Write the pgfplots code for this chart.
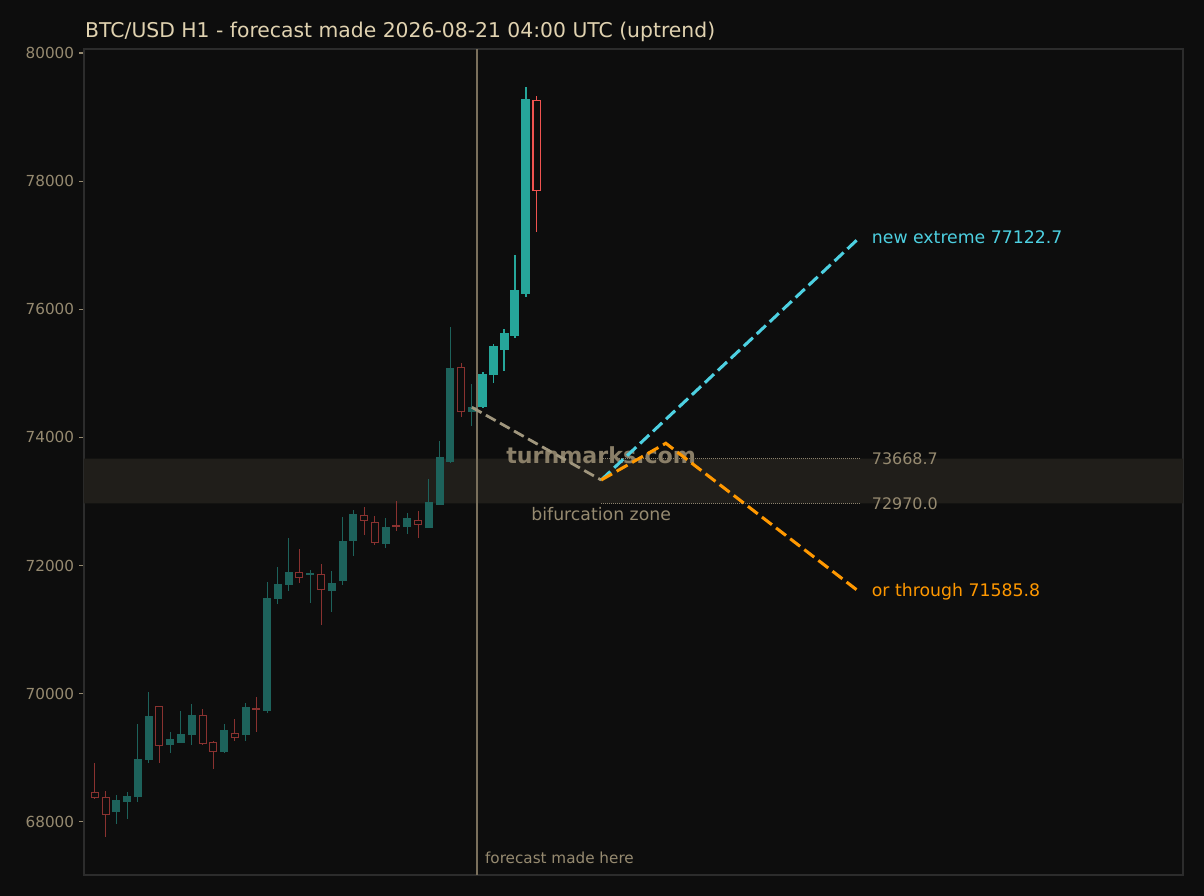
\documentclass[border=0pt]{standalone}
\usepackage{fontspec}
\setmainfont{DejaVu Sans}
\usepackage{pgfplots}
\pgfplotsset{compat=1.18}
\usepackage{pgfplotstable}

\definecolor{bg}{RGB}{13,13,13}
\definecolor{frame}{RGB}{44,44,44}
\definecolor{band}{RGB}{32,30,26}
\definecolor{titlec}{RGB}{224,210,176}
\definecolor{tickc}{RGB}{150,138,112}
\definecolor{vline}{RGB}{122,112,92}
\definecolor{tanc}{RGB}{160,150,125}
\definecolor{dotc}{RGB}{140,130,110}
\definecolor{wmark}{RGB}{138,127,104}
\definecolor{upc}{RGB}{38,166,154}
\definecolor{dnc}{RGB}{239,83,80}
\definecolor{uppast}{RGB}{29,98,91}
\definecolor{dnpast}{RGB}{138,50,48}
\definecolor{cyanc}{RGB}{77,208,225}
\definecolor{orangec}{RGB}{255,152,0}

% hourly candles, x = candle index
\pgfplotstableread{
i  o      h      l      c
0  68463  68924  68363  68385
1  68385  68488  67760  68113
2  68160  68425  67968  68338
3  68316  68463  68041  68400
4  68394  69524  68316  68978
5  68971  70023  68915  69653
6  69805  69810  68915  69190
7  69205  69399  69071  69290
8  69237  69736  69230  69372
9  69362  69836  69196  69669
10 69664  69767  69196  69227
11 69243  69268  68822  69102
12 69107  69524  69080  69435
13 69383  69611  69258  69315
14 69362  69861  69258  69778
15 69765  69955  69403  69752
16 69747  71749  69695  71495
17 71495  71983  71401  71698
18 71713  72426  71599  71900
19 71896  72264  71724  71812
20 71858  71932  71412  71880
21 71865  72030  71073  71630
22 71609  71921  71281  71724
23 71765  72763  71698  72384
24 72389  72868  72150  72801
25 72785  72920  72478  72701
26 72676  72779  72322  72358
27 72342  72748  72270  72598
28 72620  73004  72536  72610
29 72607  72817  72489  72728
30 72712  72848  72431  72645
31 72603  73357  72590  72993
32 72951  73950  72945  73680
33 73622  75729  73597  75069
34 75095  75157  74315  74402
35 74402  74830  74179  74471
}\past

\pgfplotstableread{
i  o      h      l      c
36 74480  75017  74465  74975
37 74980  75459  74855  75412
38 75385  75693  75042  75615
39 75588  76848  75557  76286
40 76259  79469  76197  79267
41 79262  79329  77211  77857
}\future

\pgfplotsset{
  candle/.style 2 args={draw=none, mark=none, forget plot,
    error bars/.cd, y dir=both, y explicit, error mark=none,
    error bar style={draw=#1, line width=#2}},
  rise/.style={restrict expr to domain={\thisrow{c}-\thisrow{o}}{0:100000}},
  fall/.style={restrict expr to domain={\thisrow{c}-\thisrow{o}}{-100000:0}},
}

\begin{document}
\begin{tikzpicture}
\fill[bg] (-60.48bp,-15.12bp) rectangle (806.4bp,630bp);
\begin{axis}[
  at={(0,0)}, anchor=south west,
  scale only axis,
  width=791.28bp, height=594.72bp,
  xmin=-1, xmax=101,
  ymin=67172, ymax=80062,
  clip=false,
  axis line style={draw=frame, line width=0.9bp},
  xtick=\empty,
  ytick={68000,70000,...,80000},
  ytick pos=left,
  tick align=outside,
  major tick length=3.6bp,
  tick style={draw=tickc, line width=0.8bp},
  scaled y ticks=false,
  yticklabel style={font=\fontsize{11}{13}\selectfont, text=tickc},
  /pgf/number format/.cd, fixed, 1000 sep={}, assume math mode=true,
]

% bifurcation zone
\addplot[fill=band, draw=none, forget plot] coordinates {
  (-1,72970) (101,72970) (101,73668.7) (-1,73668.7) (-1,72970)};

% forecast made here
\addplot[vline, line width=1.4bp, forget plot] coordinates {(35.45,67172) (35.45,80062)};

% past candles (dimmed)
\addplot[rise, candle={uppast}{0.72bp}] table[x=i,
  y expr={(\thisrow{h}+\thisrow{l})/2}, y error expr={(\thisrow{h}-\thisrow{l})/2}] {\past};
\addplot[fall, candle={dnpast}{0.72bp}] table[x=i,
  y expr={(\thisrow{h}+\thisrow{l})/2}, y error expr={(\thisrow{h}-\thisrow{l})/2}] {\past};
\addplot[rise, candle={uppast}{5.76bp}] table[x=i,
  y expr={(\thisrow{o}+\thisrow{c})/2}, y error expr={(\thisrow{c}-\thisrow{o})/2+8}] {\past};
\addplot[fall, candle={dnpast}{5.76bp}] table[x=i,
  y expr={(\thisrow{o}+\thisrow{c})/2}, y error expr={(\thisrow{o}-\thisrow{c})/2+8}] {\past};
\addplot[fall, candle={bg}{4.32bp}] table[x=i,
  y expr={(\thisrow{o}+\thisrow{c})/2}, y error expr={max((\thisrow{o}-\thisrow{c})/2-8,0)}] {\past};

% candles after the forecast
\addplot[rise, candle={upc}{1.3bp}] table[x=i,
  y expr={(\thisrow{h}+\thisrow{l})/2}, y error expr={(\thisrow{h}-\thisrow{l})/2}] {\future};
\addplot[fall, candle={dnc}{1.3bp}] table[x=i,
  y expr={(\thisrow{h}+\thisrow{l})/2}, y error expr={(\thisrow{h}-\thisrow{l})/2}] {\future};
\addplot[rise, candle={upc}{6.48bp}] table[x=i,
  y expr={(\thisrow{o}+\thisrow{c})/2}, y error expr={(\thisrow{c}-\thisrow{o})/2+12}] {\future};
\addplot[fall, candle={dnc}{6.48bp}] table[x=i,
  y expr={(\thisrow{o}+\thisrow{c})/2}, y error expr={(\thisrow{o}-\thisrow{c})/2+12}] {\future};
\addplot[fall, candle={bg}{4.32bp}] table[x=i,
  y expr={(\thisrow{o}+\thisrow{c})/2}, y error expr={max((\thisrow{o}-\thisrow{c})/2-12,0)}] {\future};

% zone levels
\addplot[dotc, line width=0.8bp, dash pattern=on 0.72bp off 0.72bp, forget plot]
  coordinates {(47,73668.7) (71,73668.7)};
\addplot[dotc, line width=0.8bp, dash pattern=on 0.72bp off 0.72bp, forget plot]
  coordinates {(47,72970) (71,72970)};

\node[font=\bfseries\fontsize{16}{18}\selectfont, text=wmark, inner sep=0] at (axis cs:47,73720) {turnmarks.com};

% forecast paths
\addplot[tanc, line width=2bp, dash pattern=on 8bp off 3.6bp, forget plot]
  coordinates {(35,74471) (47,73336)};
\addplot[cyanc, line width=2.2bp, dash pattern=on 9bp off 3.8bp, forget plot]
  coordinates {(47,73336) (71,77122.7)};
\addplot[orangec, line width=2.2bp, dash pattern=on 9bp off 3.8bp, forget plot]
  coordinates {(47,73336) (53,73909) (71,71585.8)};

\node[anchor=west, inner sep=0, text=cyanc, font=\fontsize{12.5}{14}\selectfont] at (axis cs:72.1,77122.7) {new extreme 77122.7};
\node[anchor=west, inner sep=0, text=orangec, font=\fontsize{12.5}{14}\selectfont] at (axis cs:72.1,71585.8) {or through 71585.8};
\node[anchor=west, inner sep=0, text=tickc, font=\fontsize{11.5}{13}\selectfont] at (axis cs:72.1,73668.7) {73668.7};
\node[anchor=west, inner sep=0, text=tickc, font=\fontsize{11.5}{13}\selectfont] at (axis cs:72.1,72970) {72970.0};
\node[inner sep=0, text=tickc, font=\fontsize{12.5}{14}\selectfont] at (axis cs:47,72806) {bifurcation zone};
\node[anchor=west, inner sep=0, text=tickc, font=\fontsize{11}{13}\selectfont] at (axis cs:36.2,67437) {forecast made here};

\node[anchor=base west, inner sep=0, text=titlec, font=\fontsize{14.7}{17}\selectfont, yshift=8.4bp, xshift=0.7bp] at (rel axis cs:0,1) {BTC/USD H1 - forecast made 2026-08-21 04:00 UTC (uptrend)};
\end{axis}
\end{tikzpicture}
\end{document}
